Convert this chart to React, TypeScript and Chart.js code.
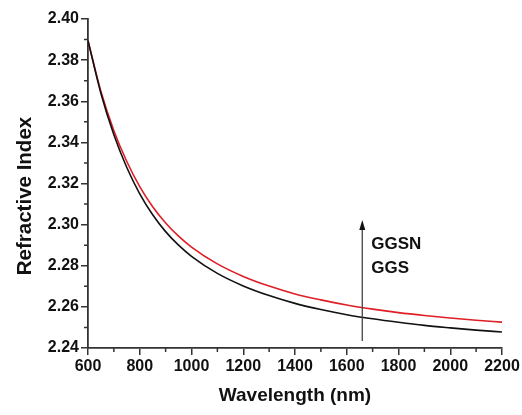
import React, { useEffect, useRef } from "react";
import { Chart, registerables } from "chart.js";

Chart.register(...registerables);

const wavelengths = [600, 650, 700, 750, 800, 850, 900, 950, 1000, 1100, 1200, 1300, 1400, 1500, 1600, 1700, 1800, 1900, 2000, 2100, 2200];
const ggs = [2.3895, 2.3638, 2.3437, 2.3278, 2.315, 2.3048, 2.2966, 2.29, 2.2846, 2.2763, 2.2702, 2.2655, 2.2617, 2.2587, 2.2562, 2.2542, 2.2525, 2.251, 2.2498, 2.2487, 2.2478];
const ggsn = [2.3895, 2.3647, 2.3457, 2.3307, 2.3185, 2.3087, 2.3008, 2.2944, 2.2891, 2.2809, 2.2748, 2.2701, 2.2663, 2.2634, 2.2609, 2.2589, 2.2572, 2.2558, 2.2546, 2.2535, 2.2526];
const seriesNames = ["GGS", "GGSN"];
const xMinorTicks = [700, 900, 1100, 1300, 1500, 1700, 1900, 2100];
const yMinorTicks = [2.25, 2.27, 2.29, 2.31, 2.33, 2.35, 2.37, 2.39];
const arrowX = 1660;
const arrowFrom = 2.2434;
const arrowTo = 2.3023;
const labelTop = { text: "GGSN", y: 2.2883 };
const labelBottom = { text: "GGS", y: 2.2767 };
const yTitle = "Refractive Index";
const xTitle = "Wavelength (nm)";

const FONT = "'Liberation Sans', Arial, Helvetica, sans-serif";
const AXIS = "#333333";

const extras = {
  id: "extras",
  afterDraw(chart: any) {
    const { ctx, scales } = chart;
    const xs = scales.x;
    const ys = scales.y;
    const area = chart.chartArea;
    ctx.save();
    ctx.strokeStyle = AXIS;
    ctx.lineWidth = 1.5;
    // minor ticks
    ctx.beginPath();
    for (const v of yMinorTicks) {
      const p = ys.getPixelForValue(v);
      ctx.moveTo(area.left - 4, p);
      ctx.lineTo(area.left, p);
    }
    for (const v of xMinorTicks) {
      const p = xs.getPixelForValue(v);
      ctx.moveTo(p, area.bottom);
      ctx.lineTo(p, area.bottom + 4);
    }
    ctx.stroke();
    // arrow
    const ax = xs.getPixelForValue(arrowX);
    const y0 = ys.getPixelForValue(arrowFrom);
    const y1 = ys.getPixelForValue(arrowTo);
    ctx.strokeStyle = "#444";
    ctx.lineWidth = 1.3;
    ctx.beginPath();
    ctx.moveTo(ax, y0);
    ctx.lineTo(ax, y1 + 8);
    ctx.stroke();
    ctx.fillStyle = "#111";
    ctx.beginPath();
    ctx.moveTo(ax, y1);
    ctx.lineTo(ax - 3, y1 + 10);
    ctx.lineTo(ax + 3, y1 + 10);
    ctx.closePath();
    ctx.fill();
    // labels
    ctx.fillStyle = "#111";
    ctx.font = `bold 17px ${FONT}`;
    ctx.textBaseline = "alphabetic";
    ctx.textAlign = "left";
    ctx.fillText(labelTop.text, ax + 9, ys.getPixelForValue(labelTop.y));
    ctx.fillText(labelBottom.text, ax + 9, ys.getPixelForValue(labelBottom.y));
    // y axis title
    ctx.save();
    ctx.translate(31, 196);
    ctx.rotate(-Math.PI / 2);
    ctx.font = `bold 20.5px ${FONT}`;
    ctx.textAlign = "center";
    ctx.textBaseline = "alphabetic";
    ctx.fillText(yTitle, 0, 0);
    ctx.restore();
    ctx.restore();
  },
};

export default function App() {
  const ref = useRef<HTMLCanvasElement | null>(null);
  useEffect(() => {
    if (!ref.current) return;
    const chart = new Chart(ref.current, {
      type: "line",
      data: {
        datasets: [
          {
            label: seriesNames[0],
            data: wavelengths.map((w, i) => ({ x: w, y: ggs[i] })),
            borderColor: "#111111",
            borderWidth: 1.6,
            pointRadius: 0,
            cubicInterpolationMode: "monotone",
            fill: false,
          },
          {
            label: seriesNames[1],
            data: wavelengths.map((w, i) => ({ x: w, y: ggsn[i] })),
            borderColor: "#e01e26",
            borderWidth: 1.6,
            pointRadius: 0,
            cubicInterpolationMode: "monotone",
            fill: false,
          },
        ],
      },
      options: {
        animation: false,
        responsive: false,
        layout: { padding: { top: 19, right: 20, left: 0, bottom: 0 } },
        plugins: { legend: { display: false }, tooltip: { enabled: false } },
        scales: {
          x: {
            type: "linear",
            min: 600,
            max: 2200,
            afterFit: (s: any) => { s.height = 67; },
            ticks: {
              stepSize: 200,
              padding: 2,
              color: "#111",
              font: { family: FONT, size: 16, weight: "bold" },
              maxRotation: 0,
              callback: (v: any) => String(v),
            },
            grid: { drawOnChartArea: false, drawTicks: true, tickLength: 7, color: AXIS, lineWidth: 1.5 },
            border: { display: true, color: AXIS, width: 1.8 },
            title: {
              display: true,
              text: xTitle,
              color: "#111",
              font: { family: FONT, size: 19, weight: "bold" },
              padding: { top: 8, bottom: 8 },
            },
          },
          y: {
            type: "linear",
            min: 2.24,
            max: 2.40,
            afterFit: (s: any) => { s.width = 88; },
            ticks: {
              stepSize: 0.02,
              padding: 2,
              color: "#111",
              font: { family: FONT, size: 16, weight: "bold" },
              callback: (v: any) => Number(v).toFixed(2),
            },
            grid: { drawOnChartArea: false, drawTicks: true, tickLength: 7, color: AXIS, lineWidth: 1.5 },
            border: { display: true, color: AXIS, width: 1.8 },
            title: { display: false },
          },
        },
      },
      plugins: [extras],
    });
    return () => chart.destroy();
  }, []);
  return (
    <div style={{ position: "absolute", left: 0, top: 0, width: 522, height: 415, background: "#fff" }}>
      <canvas ref={ref} width={522} height={415} style={{ display: "block" }} />
    </div>
  );
}
